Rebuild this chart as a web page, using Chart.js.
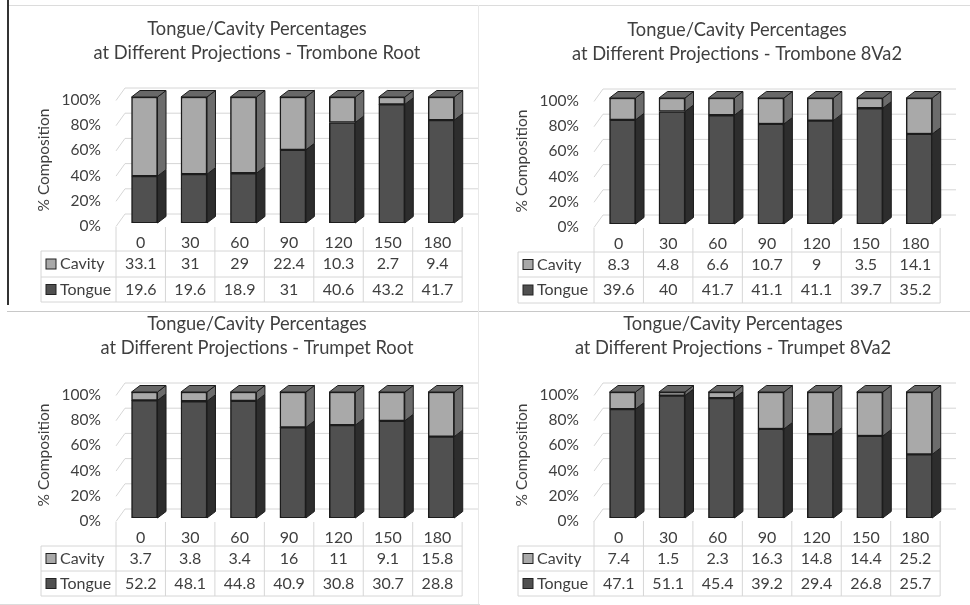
<!DOCTYPE html>
<html>
<head>
<meta charset="utf-8">
<title>Tongue/Cavity Percentages</title>
<script src="https://cdn.jsdelivr.net/npm/chart.js@4"></script>
<style>
    html, body { margin: 0; padding: 0; background: #fff; width: 970px; height: 605px; overflow: hidden; }
    canvas { position: absolute; filter: blur(0.45px); }
    .rule { position: absolute; background: #dcdcdc; }
</style>
</head>
<body>
<div class="rule" style="left:7px;top:5px;width:963px;height:1px"></div>
<div class="rule" style="left:7px;top:0;width:1.5px;height:305px;background:#333"></div>
<div class="rule" style="left:7px;top:311px;width:963px;height:1px;background:#c8c8c8"></div>
<div class="rule" style="left:478px;top:5px;width:1px;height:600px;background:#e8e8e8"></div>
<div class="rule" style="left:0;top:604px;width:480px;height:1px"></div>
<canvas id="c0" style="left:0;top:0" width="485" height="308"></canvas>
<canvas id="c1" style="left:485px;top:0" width="485" height="308"></canvas>
<canvas id="c2" style="left:0;top:308px" width="485" height="297"></canvas>
<canvas id="c3" style="left:485px;top:308px" width="485" height="297"></canvas>
<script>
const projections = ["0", "30", "60", "90", "120", "150", "180"];

const titles = [
    ["Tongue/Cavity Percentages", "at Different Projections - Trombone Root"],
    ["Tongue/Cavity Percentages", "at Different Projections - Trombone 8Va2"],
    ["Tongue/Cavity Percentages", "at Different Projections - Trumpet Root"],
    ["Tongue/Cavity Percentages", "at Different Projections - Trumpet 8Va2"]
];

const tromboneRootCavity = [33.1, 31, 29, 22.4, 10.3, 2.7, 9.4];
const tromboneRootTongue = [19.6, 19.6, 18.9, 31, 40.6, 43.2, 41.7];
const trombone8va2Cavity = [8.3, 4.8, 6.6, 10.7, 9, 3.5, 14.1];
const trombone8va2Tongue = [39.6, 40, 41.7, 41.1, 41.1, 39.7, 35.2];
const trumpetRootCavity = [3.7, 3.8, 3.4, 16, 11, 9.1, 15.8];
const trumpetRootTongue = [52.2, 48.1, 44.8, 40.9, 30.8, 30.7, 28.8];
const trumpet8va2Cavity = [7.4, 1.5, 2.3, 16.3, 14.8, 14.4, 25.2];
const trumpet8va2Tongue = [47.1, 51.1, 45.4, 39.2, 29.4, 26.8, 25.7];

const cavitySeries = [tromboneRootCavity, trombone8va2Cavity, trumpetRootCavity, trumpet8va2Cavity];
const tongueSeries = [tromboneRootTongue, trombone8va2Tongue, trumpetRootTongue, trumpet8va2Tongue];

// layout per panel, in canvas coordinates
const layouts = [
    { gridLeft: 116, tableLeft: 41, y100: 97, y0: 223, gridTop: 227, rows: [251, 277, 302], titleX: 257, titleTop: 17, axisX: 44 },
    { gridLeft: 109, tableLeft: 33, y100: 98, y0: 224, gridTop: 228, rows: [252, 277, 303], titleX: 252, titleTop: 18, axisX: 37 },
    { gridLeft: 116, tableLeft: 41, y100: 84, y0: 210, gridTop: 214, rows: [238, 263, 288], titleX: 257, titleTop: 4, axisX: 44 },
    { gridLeft: 109, tableLeft: 33, y100: 84, y0: 210, gridTop: 213, rows: [238, 263, 288], titleX: 248, titleTop: 4, axisX: 37 }
];

const cellWidth = 49.45;
const barShift = 3.8; // front of the bars sits right of the table cell centre
const depthX = 8.5, depthY = 6.5;
const fontName = "Lato";
const textColor = "#3f3f3f";
const lineColor = "#d6d6d6";
const colors = {
    cavity: { front: "#a9a9a9", side: "#6c6c6c", top: "#686868" },
    tongue: { front: "#505050", side: "#2d2d2d", top: "#3a3a3a" }
};

function polygon(ctx, pts, fill) 
{
    ctx.beginPath();
    pts.forEach((p, i) => i ? ctx.lineTo(p[0], p[1]) : ctx.moveTo(p[0], p[1]));
    ctx.closePath();
    ctx.fillStyle = fill;
    ctx.fill();
    ctx.strokeStyle = "#1c1c1c";
    ctx.lineWidth = 1;
    ctx.stroke();
}

function hLine(ctx, x1, y1, x2, y2) 
{
    ctx.beginPath();
    ctx.moveTo(x1, y1);
    ctx.lineTo(x2, y2);
    ctx.stroke();
}

// back wall grid and the depth faces of the bars
const depthPlugin = {
    id: "depth",
    afterLayout(chart, args, opts) {
        const half = 210;
        chart.titleBlock.left = opts.layout.titleX - half;
        chart.titleBlock.right = opts.layout.titleX + half;
    },
    beforeDatasetsDraw(chart, args, opts) {
        const ctx = chart.ctx, lay = opts.layout;
        ctx.save();
        ctx.strokeStyle = lineColor;
        ctx.lineWidth = 1;
        chart.scales.y.ticks.forEach(t => {
            const y = chart.scales.y.getPixelForValue(t.value);
            hLine(ctx, lay.gridLeft, y + 3.5, lay.gridLeft + 9, y - 9);
            hLine(ctx, lay.gridLeft + 9, y - 9, lay.gridLeft + 362, y - 9);
        });
        chart.data.datasets.forEach((ds, d) => {
            const c = ds.faces;
            chart.getDatasetMeta(d).data.forEach(bar => {
                const r = bar.x + bar.width / 2, l = bar.x - bar.width / 2;
                polygon(ctx, [[r, bar.y], [r + depthX, bar.y - depthY], [r + depthX, bar.base - depthY], [r, bar.base]], c.side);
                if (d === chart.data.datasets.length - 1) {
                    polygon(ctx, [[l, bar.y], [l + depthX, bar.y - depthY], [r + depthX, bar.y - depthY], [r, bar.y]], c.top);
                }
            });
        });
        ctx.restore();
    },
    // data table under the plot
    afterDraw(chart, args, opts) {
        const ctx = chart.ctx, lay = opts.layout, xs = chart.scales.x;
        const right = lay.gridLeft + cellWidth * projections.length;
        ctx.save();
        ctx.strokeStyle = lineColor;
        ctx.lineWidth = 1;
        lay.rows.forEach(y => hLine(ctx, lay.tableLeft, y, right, y));
        hLine(ctx, lay.tableLeft, lay.rows[0], lay.tableLeft, lay.rows[2]);
        for (let i = 0; i <= projections.length; i++) {
            const x = lay.gridLeft + cellWidth * i;
            hLine(ctx, x, lay.gridTop, x, lay.rows[2]);
        }
        ctx.font = "16px " + fontName;
        ctx.fillStyle = textColor;
        ctx.textBaseline = "middle";
        chart.data.datasets.slice().reverse().forEach((ds, r) => {
            const mid = (lay.rows[r] + lay.rows[r + 1]) / 2;
            ctx.fillStyle = ds.faces.front;
            ctx.strokeStyle = "#222";
            ctx.fillRect(lay.tableLeft + 5, mid - 5, 10, 10);
            ctx.strokeRect(lay.tableLeft + 5, mid - 5, 10, 10);
            ctx.fillStyle = textColor;
            ctx.textAlign = "left";
            ctx.fillText(ds.label, lay.tableLeft + 19, mid);
            ctx.textAlign = "center";
            ds.raw.forEach((v, i) => {
                ctx.fillText(String(v), xs.getPixelForValue(i) - barShift, mid);
            });
        });
        ctx.restore();
    }
};

function share(part, other) 
{
    return part.map((v, i) => v / (v + other[i]) * 100);
}

function makeChart(i) 
{
    const lay = layouts[i];
    const canvas = document.getElementById("c" + i);
    const cav = cavitySeries[i], ton = tongueSeries[i];
    const chartLeft = lay.gridLeft + barShift;

    return new Chart(canvas.getContext("2d"), {
        type: "bar",
        data: {
            labels: projections,
            datasets: [
                { label: "Tongue", raw: ton, faces: colors.tongue, data: share(ton, cav), backgroundColor: colors.tongue.front },
                { label: "Cavity", raw: cav, faces: colors.cavity, data: share(cav, ton), backgroundColor: colors.cavity.front }
            ]
        },
        options: {
            responsive: false,
            animation: false,
            events: [],
            datasets: { bar: { barThickness: 26, borderWidth: 1.5, borderColor: "#1c1c1c", borderSkipped: false } },
            layout: {
                padding: {
                    left: 0, top: 0,
                    right: canvas.width - chartLeft - cellWidth * projections.length,
                    bottom: canvas.height - lay.y0 - 25
                }
            },
            plugins: {
                legend: { display: false },
                tooltip: { enabled: false },
                title: {
                    display: true,
                    text: titles[i],
                    color: textColor,
                    font: { family: fontName, size: 18.3, weight: "normal", lineHeight: 24 / 18.3 },
                    padding: { top: lay.titleTop, bottom: lay.y100 - lay.titleTop - 48 }
                },
                depth: { layout: lay }
            },
            scales: {
                x: {
                    stacked: true,
                    grid: { display: false, drawTicks: false },
                    border: { display: false },
                    ticks: { color: textColor, font: { family: fontName, size: 16 }, padding: 10, labelOffset: -barShift, maxRotation: 0 },
                    afterFit: s => { s.height = 25; }
                },
                y: {
                    stacked: true,
                    min: 0, max: 100,
                    grid: { display: false, drawTicks: false },
                    border: { display: false },
                    title: {
                        display: true,
                        text: "% Composition",
                        color: textColor,
                        font: { family: fontName, size: 15.5, lineHeight: 20 / 15.5 },
                        padding: { top: lay.axisX - 10, bottom: 0 }
                    },
                    ticks: {
                        stepSize: 20,
                        color: textColor,
                        font: { family: fontName, size: 15.5 },
                        padding: 19,
                        labelOffset: 3,
                        callback: v => v + "%"
                    },
                    afterFit: s => { s.width = chartLeft; }
                }
            }
        },
        plugins: [depthPlugin]
    });
}

titles.forEach((t, i) => makeChart(i));
</script>
</body>
</html>
